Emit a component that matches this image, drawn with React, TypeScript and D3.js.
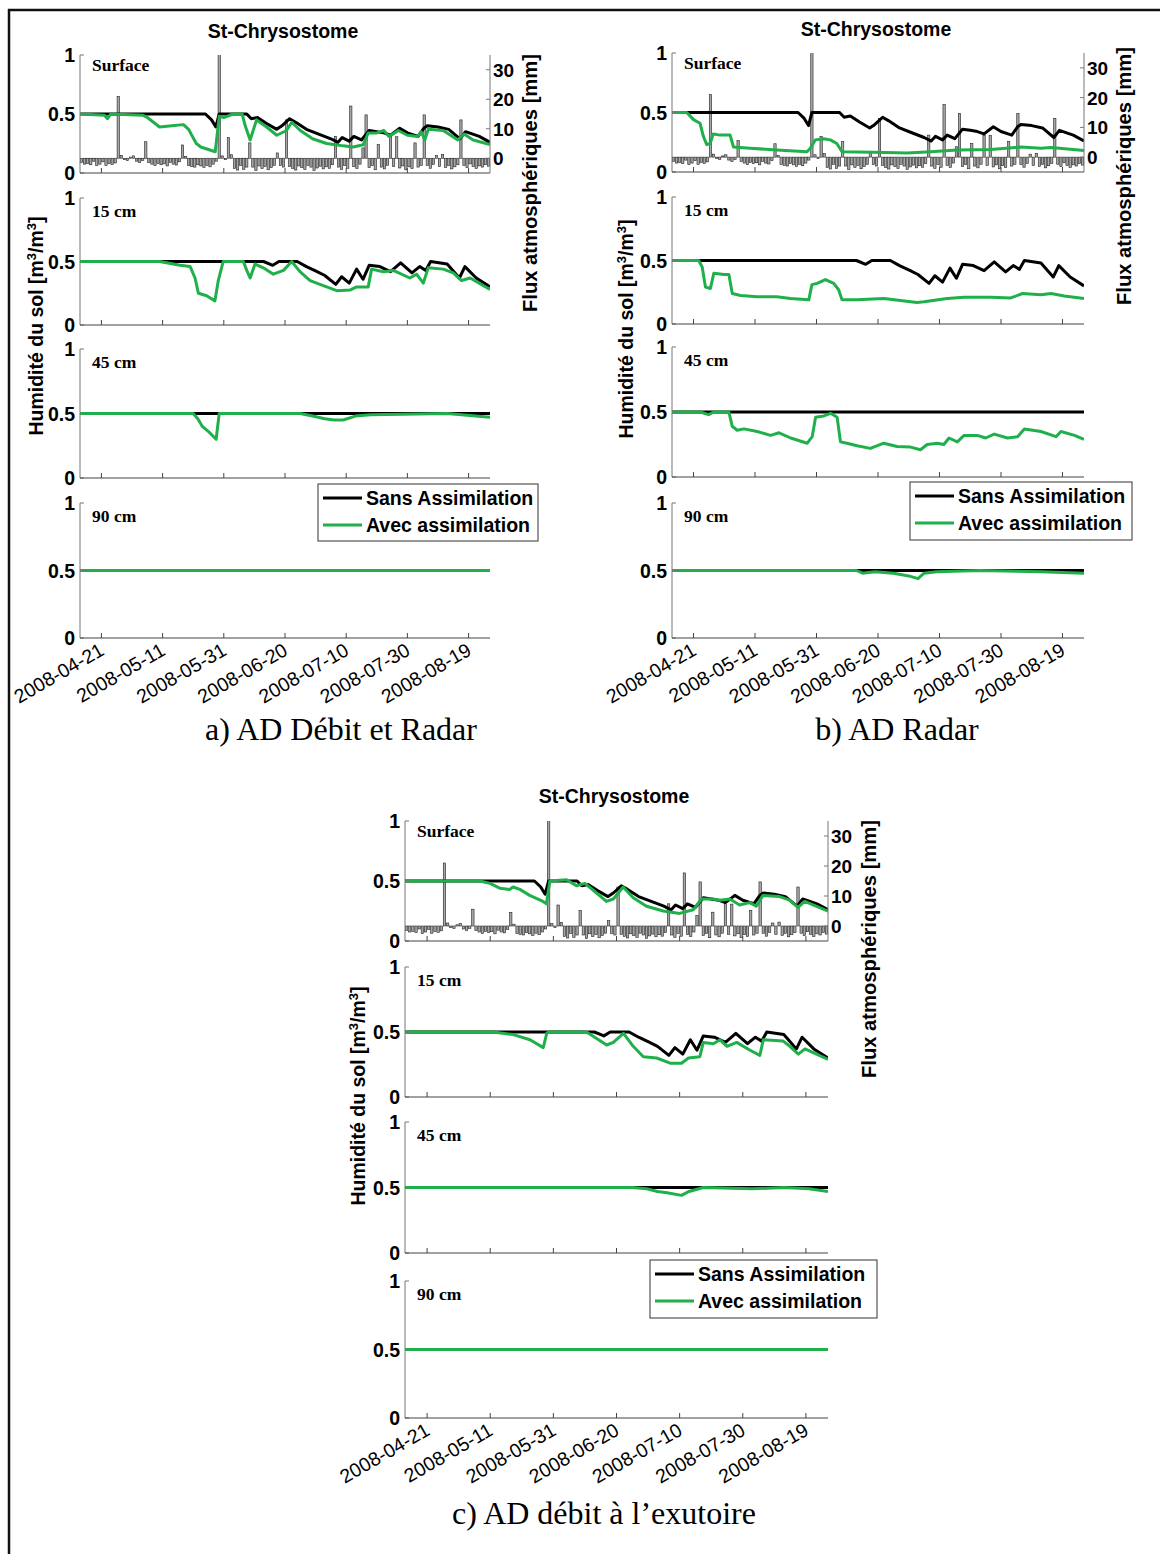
import React from 'react';
import * as d3 from 'd3';

// ---------- data ----------
const START = new Date(2008, 3, 14);
const END = new Date(2008, 7, 26);
const tickLabels = ['2008-04-21', '2008-05-11', '2008-05-31', '2008-06-20', '2008-07-10', '2008-07-30', '2008-08-19'];
const leftTicks = [0, 0.5, 1];
const fluxTicks = [0, 10, 20, 30];
const depthLabels = ['Surface', '15 cm', '45 cm', '90 cm'];
const legendLabels = ['Sans Assimilation', 'Avec assimilation'];
const titleText = 'St-Chrysostome';
const yLeftLabel = 'Humidité du sol';
const yRightLabel = 'Flux atmosphériques [mm]';
const captions = ['a) AD Débit et Radar', 'b) AD Radar', 'c) AD débit à l\u2019exutoire'];

// daily atmospheric flux [mm] from 2008-04-14 (precipitation > 0, evapotranspiration < 0)
const fluxDaily = [
  -1.5, -2.0, -1.8, -2.2, -1.0, -2.5, -2.0, -1.2, -2.4, -1.8, -2.1, -1.6,
  21, 1.0,
  -0.5, -0.8, 0.4, 0.8, -1.0, -1.5, -0.8,
  5.6,
  -1.5, -2.0, -2.5, -1.8, -2.2, -1.9, -2.6, -1.4, -2.0, -2.3, -1.2,
  4.5, 0.6,
  -2.5, -2.8, -3.0, -2.2, -2.6, -3.1, -2.4, -2.9, -2.0, -1.0,
  40, 0.8, -0.5,
  7.0, 1.2,
  -3.5, -4.0, -2.5, -3.8, -3.0,
  5.2,
  -3.0, -4.2, -2.6, -3.5, -2.8, -3.9, -3.2, -2.4,
  1.8, -2.5, -3.0,
  13,
  -2.8, -3.5, -4.0, -2.6, -3.2, -3.8, -2.4, -3.0, -4.1, -3.3, -2.7, -3.6, -2.9, -3.4, -2.2,
  7.4,
  -3.0, -3.8, -2.5, -3.4,
  17.7,
  -2.8, -3.5, -2.0,
  3.5, 14.7,
  -3.2, -2.5, -3.9,
  4.6,
  -3.0, -3.6, -2.4,
  7.4, -2.8, 7.3,
  -3.3, -2.6, -3.9, -2.9, -3.5,
  5.2,
  -3.0, -2.4,
  14.7,
  -2.5, -3.4, -2.1, 1.0, -2.8,
  1.3,
  -3.1, -2.5, -3.6, -2.9, -2.2,
  13,
  -2.4, -3.2, -1.9, -2.8, -3.5, -2.6, -3.0, -2.2, -2.7,
];

// [day since 2008-04-14, soil moisture]
const sansSurface = [[0, 0.5], [41, 0.5], [43, 0.45], [44.4, 0.39], [45.5, 0.5], [54.5, 0.5], [56, 0.46], [58, 0.47], [61, 0.42], [64.3, 0.37], [66, 0.4], [68.5, 0.46], [70.5, 0.43], [74, 0.37], [78, 0.33], [82, 0.29], [84.3, 0.26], [85.7, 0.3], [88, 0.27], [89.5, 0.31], [92, 0.28], [94.5, 0.36], [97, 0.35], [99.3, 0.34], [101.5, 0.32], [104.5, 0.38], [107, 0.34], [110.5, 0.31], [112.4, 0.38], [113.5, 0.4], [117, 0.39], [120.5, 0.37], [124.2, 0.29], [126, 0.35], [130.5, 0.31], [134, 0.26]];
const sans15 = [[0, 0.5], [60, 0.5], [63, 0.47], [65, 0.5], [71, 0.5], [74, 0.46], [77.5, 0.42], [80, 0.39], [83.6, 0.32], [85.5, 0.38], [88, 0.33], [90.4, 0.44], [92.5, 0.36], [94.5, 0.47], [98, 0.46], [101.5, 0.42], [104.8, 0.49], [108.5, 0.41], [111, 0.46], [113, 0.43], [114.6, 0.5], [120, 0.48], [124, 0.37], [125.8, 0.46], [129.5, 0.37], [134, 0.3]];
const sans45 = [[0, 0.5], [134, 0.5]];
const sans90 = [[0, 0.5], [134, 0.5]];

const avecASurface = [[0, 0.5], [8, 0.49], [9, 0.46], [10, 0.5], [20.5, 0.49], [22, 0.47], [26, 0.39], [30, 0.4], [33.8, 0.41], [35.5, 0.37], [38, 0.25], [39.5, 0.22], [44.2, 0.18], [45.5, 0.48], [47, 0.47], [50, 0.5], [53, 0.5], [54, 0.4], [55.6, 0.28], [57.7, 0.45], [61, 0.39], [64.3, 0.32], [67.5, 0.36], [69.2, 0.43], [72, 0.36], [76, 0.29], [80.6, 0.25], [86, 0.23], [89.3, 0.22], [92.6, 0.24], [94.2, 0.34], [97, 0.34], [99.3, 0.36], [101, 0.31], [104, 0.36], [107, 0.32], [110.4, 0.31], [111.5, 0.35], [112.7, 0.28], [113.8, 0.37], [118.7, 0.36], [123.5, 0.28], [125.5, 0.33], [128.5, 0.28], [134, 0.24]];
const avecA15 = [[0, 0.5], [26, 0.5], [32.7, 0.47], [36, 0.46], [37.6, 0.37], [38.7, 0.25], [41.4, 0.23], [44.1, 0.19], [45.2, 0.35], [46.8, 0.5], [53.4, 0.5], [54.5, 0.43], [55.6, 0.37], [57.2, 0.48], [59.9, 0.45], [63.2, 0.4], [66.5, 0.43], [69.2, 0.5], [71.9, 0.42], [75.2, 0.35], [79.5, 0.31], [83.9, 0.27], [88.2, 0.275], [90.4, 0.3], [94.2, 0.3], [95.3, 0.44], [99.1, 0.42], [102.4, 0.43], [107.8, 0.37], [110, 0.4], [112.2, 0.33], [113.8, 0.45], [118.7, 0.44], [122, 0.41], [124.7, 0.35], [127.5, 0.37], [134, 0.28]];
const avecA45 = [[0, 0.5], [37, 0.5], [38.5, 0.46], [40, 0.4], [42, 0.36], [44.5, 0.3], [45.5, 0.5], [72, 0.5], [76, 0.48], [80, 0.46], [83, 0.45], [86, 0.45], [90, 0.48], [95, 0.49], [120, 0.5], [134, 0.47]];
const avecA90 = [[0, 0.5], [134, 0.5]];

const avecBSurface = [[0, 0.5], [4.8, 0.5], [7, 0.44], [9.1, 0.41], [10.2, 0.3], [11.3, 0.23], [12.4, 0.24], [13.4, 0.32], [15.6, 0.31], [18.9, 0.31], [20, 0.21], [25.4, 0.2], [34.1, 0.185], [43.9, 0.17], [45, 0.2], [46.6, 0.27], [49.3, 0.28], [51.5, 0.27], [53.6, 0.24], [55.3, 0.17], [65.6, 0.165], [76.5, 0.16], [84.1, 0.17], [92.8, 0.185], [103.7, 0.19], [113.5, 0.21], [120, 0.2], [123.3, 0.205], [134, 0.18]];
const avecB15 = [[0, 0.5], [8.7, 0.5], [9.8, 0.45], [10.9, 0.29], [12.5, 0.28], [13.6, 0.4], [16.9, 0.39], [18.5, 0.39], [19.6, 0.24], [22.3, 0.225], [27.7, 0.215], [34.1, 0.215], [38.5, 0.2], [44.5, 0.19], [45.5, 0.31], [47.2, 0.32], [49.9, 0.35], [52.6, 0.32], [54.2, 0.27], [55.3, 0.19], [60.2, 0.19], [68.9, 0.2], [79.7, 0.17], [82, 0.175], [89.5, 0.2], [95, 0.21], [103.7, 0.21], [110.2, 0.205], [114, 0.24], [120, 0.23], [123.3, 0.24], [127.6, 0.22], [134, 0.2]];
const avecB45 = [[0, 0.5], [9.2, 0.5], [11.9, 0.48], [13.6, 0.5], [18.5, 0.5], [19.6, 0.39], [21.2, 0.36], [23.4, 0.37], [27.7, 0.35], [32.1, 0.32], [34.8, 0.34], [38.6, 0.3], [44, 0.26], [45.6, 0.31], [46.7, 0.46], [49.4, 0.47], [51.6, 0.49], [53.7, 0.46], [54.8, 0.27], [56.9, 0.26], [60.2, 0.24], [64.5, 0.22], [68.9, 0.26], [73.2, 0.235], [77.6, 0.23], [80.8, 0.21], [83, 0.25], [86.3, 0.26], [88.4, 0.25], [90.1, 0.3], [92.8, 0.27], [95, 0.32], [99.3, 0.32], [102, 0.3], [104.8, 0.33], [109.1, 0.3], [112.4, 0.31], [114.6, 0.37], [120, 0.35], [124.9, 0.31], [126.5, 0.35], [130.9, 0.32], [134, 0.29]];
const avecB90 = [[0, 0.5], [60, 0.5], [62, 0.48], [66, 0.49], [72, 0.48], [77, 0.46], [80, 0.44], [82, 0.48], [86, 0.49], [100, 0.5], [120, 0.49], [134, 0.48]];

const avecCSurface = [[0, 0.5], [23.7, 0.5], [26.9, 0.48], [30, 0.44], [33.2, 0.43], [34.2, 0.45], [36.4, 0.43], [39.5, 0.38], [43.7, 0.33], [44.8, 0.31], [45.9, 0.5], [51.2, 0.51], [54.3, 0.46], [57, 0.48], [60.7, 0.4], [63.8, 0.33], [66, 0.35], [69.1, 0.45], [72.3, 0.36], [76.5, 0.29], [81.8, 0.25], [87, 0.23], [91.3, 0.26], [93.9, 0.35], [97.6, 0.35], [99.7, 0.34], [102.9, 0.35], [106, 0.3], [109.2, 0.32], [111.3, 0.29], [113.4, 0.38], [118.7, 0.37], [121.8, 0.34], [124.5, 0.28], [126.6, 0.33], [134, 0.25]];
const avecC15 = [[0, 0.5], [28, 0.5], [34.3, 0.48], [39.6, 0.44], [43.8, 0.38], [44.9, 0.49], [45.4, 0.5], [57.5, 0.5], [60.7, 0.45], [63.9, 0.4], [66, 0.42], [69.2, 0.49], [72.3, 0.39], [75.5, 0.31], [79.7, 0.3], [84, 0.26], [87.6, 0.26], [89.8, 0.3], [93.4, 0.31], [94.5, 0.42], [97.7, 0.41], [99.8, 0.44], [102, 0.39], [105.1, 0.42], [109.3, 0.36], [112.4, 0.32], [113.5, 0.44], [119.8, 0.43], [121.9, 0.39], [124.6, 0.33], [126.7, 0.37], [134, 0.29]];
const avecC45 = [[0, 0.5], [72, 0.5], [76.5, 0.49], [80, 0.47], [83, 0.46], [87.6, 0.44], [90, 0.47], [94.5, 0.5], [110, 0.49], [120, 0.5], [128, 0.49], [134, 0.47]];
const avecC90 = [[0, 0.5], [134, 0.5]];

// ---------- layout ----------
const GREEN = '#1fb04b';
const SANS = 'Liberation Sans, Arial, sans-serif';
const SERIF = 'Liberation Serif, Times New Roman, serif';

const panels = [
  {
    id: 'a', x0: 80, x1: 490,
    rows: [[55, 173], [198, 325], [349, 478], [503, 638]],
    title: [283, 38], yl: [43, 326], yr: [537, 183], legend: [318, 484, 220, 57], caption: [341, 740],
    avec: [avecASurface, avecA15, avecA45, avecA90],
  },
  {
    id: 'b', x0: 672, x1: 1084,
    rows: [[53, 172], [197, 324], [347, 477], [503, 638]],
    title: [876, 36], yl: [633, 329], yr: [1131, 176], legend: [910, 482, 222, 58], caption: [897, 740],
    avec: [avecBSurface, avecB15, avecB45, avecB90],
  },
  {
    id: 'c', x0: 405, x1: 828,
    rows: [[821, 941], [967, 1097], [1122, 1253], [1281, 1418]],
    title: [614, 803], yl: [365, 1096], yr: [876, 949], legend: [650, 1260, 227, 58], caption: [604, 1524],
    avec: [avecCSurface, avecC15, avecC45, avecC90],
  },
];
const sansSeries = [sansSurface, sans15, sans45, sans90];

const parseDate = d3.timeParse('%Y-%m-%d');
const toDate = (d: number) => new Date(START.getTime() + d * 864e5);

function Panel({ P, caption }: any) {
  const x = d3.scaleTime().domain([START, END]).range([P.x0, P.x1]);
  const tickDates = tickLabels.map((t) => parseDate(t) as Date);
  const [lx, ly, lw, lh] = P.legend;
  return (
    <g>
      {P.rows.map((r: number[], k: number) => {
        const [top, bottom] = r;
        const y = d3.scaleLinear().domain([0, 1]).range([bottom, top]);
        const line = d3.line<number[]>().x((p) => x(toDate(p[0]))).y((p) => y(p[1]));
        const clipId = `clip-${P.id}-${k}`;
        const yR = d3.scaleLinear().domain([-5, 35]).range([bottom, top]);
        const barW = x(toDate(0.75)) - x(toDate(0));
        return (
          <g key={k}>
            <defs>
              <clipPath id={clipId}>
                <rect x={P.x0} y={top} width={P.x1 - P.x0} height={bottom - top} />
              </clipPath>
            </defs>
            <g clipPath={`url(#${clipId})`}>
              {k === 0 &&
                fluxDaily.map((v, i) => {
                  const cx = x(toDate(i + 0.5));
                  const y0 = yR(0);
                  const yv = yR(v);
                  return (
                    <rect key={i} x={cx - barW / 2} y={Math.min(y0, yv)} width={barW} height={Math.abs(yv - y0)}
                      fill="#a6a6a6" stroke="#222" strokeWidth={0.6} />
                  );
                })}
              <path d={line(sansSeries[k] as any) as string} fill="none" stroke="#000" strokeWidth={3} strokeLinejoin="round" />
              <path d={line(P.avec[k]) as string} fill="none" stroke={GREEN} strokeWidth={3} strokeLinejoin="round" />
            </g>
            {/* left axis */}
            <line x1={P.x0} x2={P.x0} y1={top} y2={bottom} stroke="#777" strokeWidth={1} />
            {leftTicks.map((t) => (
              <g key={t}>
                <line x1={P.x0} x2={P.x0 + 4} y1={y(t)} y2={y(t)} stroke="#777" />
                <text x={P.x0 - 5} y={y(t) + 7} textAnchor="end" fontFamily={SANS} fontWeight="bold" fontSize={19.5} fill="#000">
                  {t}
                </text>
              </g>
            ))}
            {/* bottom axis */}
            <line x1={P.x0} x2={P.x1} y1={bottom} y2={bottom} stroke="#444" strokeWidth={1} />
            {tickDates.map((d, i) => (
              <line key={i} x1={x(d)} x2={x(d)} y1={bottom} y2={bottom - 5} stroke="#444" />
            ))}
            {/* right flux axis */}
            {k === 0 && (
              <g>
                <line x1={P.x1} x2={P.x1} y1={top} y2={bottom} stroke="#777" />
                {fluxTicks.map((t) => (
                  <g key={t}>
                    <line x1={P.x1 - 4} x2={P.x1} y1={yR(t)} y2={yR(t)} stroke="#777" />
                    <text x={P.x1 + 3} y={yR(t) + 7} fontFamily={SANS} fontWeight="bold" fontSize={19} fill="#000">
                      {t}
                    </text>
                  </g>
                ))}
              </g>
            )}
            <text x={P.x0 + 12} y={top + (k === 0 ? 16 : 18.5)} fontFamily={SERIF} fontWeight="bold" fontSize={17.5} fill="#000">
              {depthLabels[k]}
            </text>
            {k === 3 &&
              tickDates.map((d, i) => (
                <text key={i} transform={`translate(${x(d) + 4},${bottom + 16}) rotate(-30)`} textAnchor="end"
                  fontFamily={SANS} fontSize={19.5} fill="#000">
                  {tickLabels[i]}
                </text>
              ))}
          </g>
        );
      })}
      <text x={P.title[0]} y={P.title[1]} textAnchor="middle" fontFamily={SANS} fontWeight="bold" fontSize={19.5}>
        {titleText}
      </text>
      <text transform={`translate(${P.yl[0]},${P.yl[1]}) rotate(-90)`} textAnchor="middle" fontFamily={SANS} fontWeight="bold" fontSize={19.5}>
        {yLeftLabel} [m<tspan dy={-7} fontSize={13}>3</tspan><tspan dy={7}>/m</tspan><tspan dy={-7} fontSize={13}>3</tspan><tspan dy={7}>]</tspan>
      </text>
      <text transform={`translate(${P.yr[0]},${P.yr[1]}) rotate(-90)`} textAnchor="middle" fontFamily={SANS} fontWeight="bold" fontSize={20.2}>
        {yRightLabel}
      </text>
      <g>
        <rect x={lx} y={ly} width={lw} height={lh} fill="#fff" stroke="#333" strokeWidth={1} />
        <line x1={lx + 5} x2={lx + 44} y1={ly + 14} y2={ly + 14} stroke="#000" strokeWidth={3} />
        <line x1={lx + 5} x2={lx + 44} y1={ly + 41} y2={ly + 41} stroke={GREEN} strokeWidth={3} />
        <text x={lx + 48} y={ly + 21} fontFamily={SANS} fontWeight="bold" fontSize={19.5}>{legendLabels[0]}</text>
        <text x={lx + 48} y={ly + 48} fontFamily={SANS} fontWeight="bold" fontSize={19.5}>{legendLabels[1]}</text>
      </g>
      <text x={P.caption[0]} y={P.caption[1]} textAnchor="middle" fontFamily={SERIF} fontSize={32}>
        {caption}
      </text>
    </g>
  );
}

export default function App() {
  return (
    <svg width={1160} height={1554} viewBox="0 0 1160 1554" style={{ position: 'absolute', left: 0, top: 0, background: '#fff' }}>
      <rect x={0} y={0} width={1160} height={1554} fill="#fff" />
      <line x1={8} x2={1160} y1={10} y2={10} stroke="#111" strokeWidth={2.5} />
      <line x1={9} x2={9} y1={9} y2={1554} stroke="#111" strokeWidth={2.5} />
      {panels.map((P, i) => (
        <Panel key={P.id} P={P} caption={captions[i]} />
      ))}
    </svg>
  );
}
